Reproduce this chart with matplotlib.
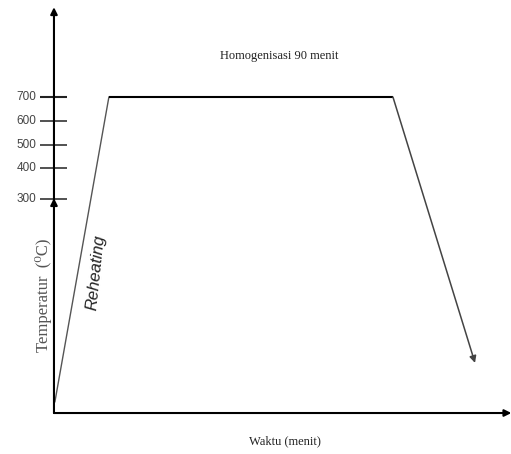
import matplotlib
matplotlib.use("Agg")
import matplotlib.pyplot as plt

# Schematic heat-treatment profile (time in minutes, temperature in degC)
profile_time = [0.3, 17.4, 107.4, 133.4]
profile_temp = [25, 700, 700, 111]

# Schematic temperature axis labels and their (non-linear) placement on the axis
tick_labels = ["300", "400", "500", "600", "700"]
tick_place = [474, 543, 594, 647, 700]

hold_label = "Homogenisasi 90 menit"
ramp_label = "Reheating"
xlabel = "Waktu (menit)"
ylabel = "Temperatur  (\u2070C)"

fig = plt.figure(figsize=(5.11, 4.54), dpi=100)
ax = fig.add_axes([0, 0, 1, 1])
ax.set_xlim(-17.1, 144.8)
ax.set_ylim(-90.8, 915)
ax.axis("off")

serif = ["Liberation Serif", "DejaVu Serif"]
sans = ["Liberation Sans", "DejaVu Sans"]

# axes with arrowheads
ax.annotate("", xy=(144.9, 0), xytext=(0, 0),
            arrowprops=dict(arrowstyle="-|>", color="black", lw=1.5,
                            mutation_scale=10, shrinkA=0, shrinkB=0))
ax.annotate("", xy=(0, 476), xytext=(0, 0),
            arrowprops=dict(arrowstyle="-|>", color="black", lw=1.5,
                            mutation_scale=10, shrinkA=0, shrinkB=0))
ax.annotate("", xy=(0, 899), xytext=(0, 470),
            arrowprops=dict(arrowstyle="-|>", color="black", lw=1.5,
                            mutation_scale=10, shrinkA=0, shrinkB=0))

# tick marks and labels
for lab, pos in zip(tick_labels, tick_place):
    ax.plot([-4.4, 4.1], [pos, pos], color="#222222", lw=1.1 if lab != "700" else 1.5,
            solid_capstyle="butt")
    ax.text(-5.6, pos, lab, ha="right", va="center", fontsize=8.5,
            color="#444444", family=sans)

# profile: ramp, hold, cooling with arrow
ax.plot(profile_time[:2], profile_temp[:2], color="#555555", lw=1.0)
ax.plot(profile_time[1:3], profile_temp[1:3], color="black", lw=1.5,
        solid_capstyle="butt")
ax.annotate("", xy=(profile_time[3], profile_temp[3]),
            xytext=(profile_time[2], profile_temp[2]),
            arrowprops=dict(arrowstyle="-|>", color="#444444", lw=1.1,
                            mutation_scale=10, shrinkA=0, shrinkB=0))

# labels
ax.text(71.5, 790, hold_label, ha="center", va="center", fontsize=9,
        family=serif, color="#222222")
ax.text(73.3, -63, xlabel, ha="center", va="center", fontsize=9,
        family=serif, color="#222222")
ax.text(-3.4, 261, ylabel, ha="center", va="center", fontsize=12,
        rotation=90, family=serif, color="#555555")
ax.text(13.4, 312, ramp_label, ha="center", va="center", fontsize=12,
        rotation=84, family=sans, style="italic", color="#222222")

fig.savefig("out.png", dpi=100)
